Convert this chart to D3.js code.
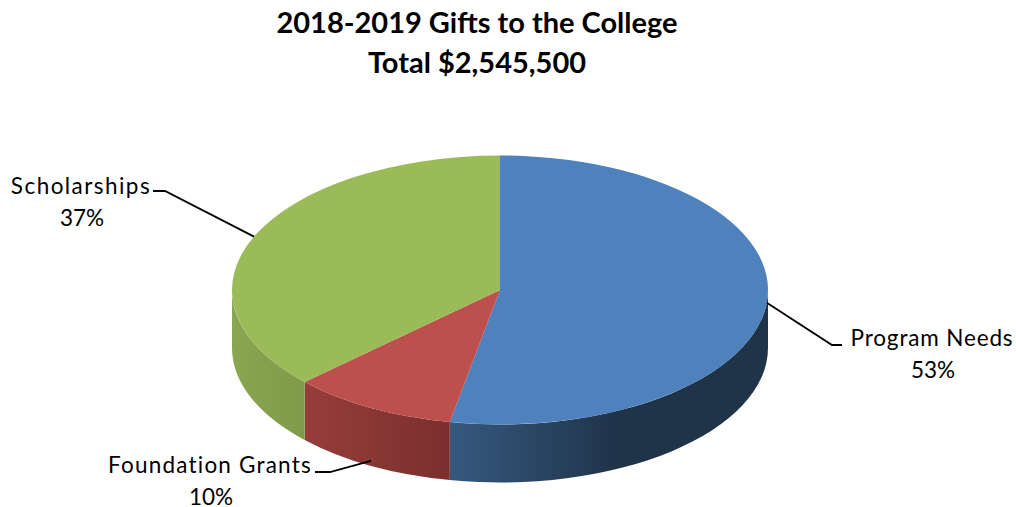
<html>
  <head>
    <script src="https://d3js.org/d3.v7.min.js"></script>
    <style>
      body {
        margin: 0;
        background: #fff;
      }
      text {
        font-family: Lato, "Open Sans", sans-serif;
        fill: #000;
      }
      .title {
        font-size: 29px;
        font-weight: 700;
      }
      .label {
        font-size: 22.5px;
      }
      .leader {
        fill: none;
        stroke: #000;
        stroke-width: 1.8;
      }
    </style>
  </head>

  <body>
    <svg id="chart" width="1016" height="507"></svg>

    <script>
      const titleLines = ["2018-2019 Gifts to the College", "Total $2,545,500"];
      const categories = ["Program Needs", "Foundation Grants", "Scholarships"];
      const percents = [53, 10, 37];
      const topColors = ["#4f81bd", "#bd4f4c", "#9bbb59"];
      const sideColorsFrom = ["#35597f", "#963d3a", "#7f9a4a"];
      const sideColorsTo = ["#1f3349", "#7a2f2e", "#8aa650"];

      const cx = 500,
        cy = 290,
        rx = 268,
        ry = 134.5,
        depth = 58;

      const svg = d3.select("svg#chart");

      svg
        .selectAll("text.title")
        .data(titleLines)
        .join("text")
        .attr("class", "title")
        .attr("x", 477)
        .attr("y", (d, i) => 33 + i * 40)
        .attr("text-anchor", "middle")
        .text((d) => d);

      const pie = d3
        .pie()
        .sort(null)
        .value((d) => d);
      const arcs = pie(percents);

      // point on the rim of the tilted disc, angle is clockwise from 12 o'clock
      const rim = (a) => [cx + rx * Math.sin(a), cy - ry * Math.cos(a)];

      const defs = svg.append("defs");
      const frontStart = Math.PI / 2,
        frontEnd = (3 * Math.PI) / 2;

      // side wall gradients
      arcs.forEach((d, i) => {
        const a0 = Math.max(d.startAngle, frontStart);
        const a1 = Math.min(d.endAngle, frontEnd);
        const xs = [rim(a0)[0], rim(a1)[0]];
        const g = defs
          .append("linearGradient")
          .attr("id", "side" + i)
          .attr("gradientUnits", "userSpaceOnUse")
          .attr("x1", i === 0 ? xs[1] : Math.min(...xs))
          .attr("x2", i === 0 ? xs[1] + 170 : Math.max(...xs))
          .attr("y1", 0)
          .attr("y2", 0);
        g.append("stop")
          .attr("offset", 0)
          .attr("stop-color", i === 2 ? sideColorsTo[i] : sideColorsFrom[i]);
        g.append("stop")
          .attr("offset", 1)
          .attr("stop-color", i === 2 ? sideColorsFrom[i] : sideColorsTo[i]);
      });

      function sidePath(d) {
        const a0 = Math.max(d.startAngle, frontStart);
        const a1 = Math.min(d.endAngle, frontEnd);
        const p0 = rim(a0),
          p1 = rim(a1);
        return (
          `M${p0[0]},${p0[1]}` +
          `A${rx},${ry} 0 0 1 ${p1[0]},${p1[1]}` +
          `L${p1[0]},${p1[1] + depth}` +
          `A${rx},${ry} 0 0 0 ${p0[0]},${p0[1] + depth}Z`
        );
      }

      svg
        .selectAll("path.side")
        .data(arcs)
        .join("path")
        .attr("class", "side")
        .attr("d", sidePath)
        .attr("fill", (d, i) => `url(#side${i})`);

      const arc = d3.arc().innerRadius(0).outerRadius(rx);

      svg
        .append("g")
        .attr("transform", `translate(${cx},${cy}) scale(1,${ry / rx})`)
        .selectAll("path")
        .data(arcs)
        .join("path")
        .attr("d", arc)
        .attr("fill", (d, i) => topColors[i]);

      // label placement: text anchor point and the leader's elbow, per slice
      const labelBoxes = [
        { x: 932, y: 346, spacing: 0.85, bend: [832, 345], stub: [842, 345], drop: 0 },
        { x: 210, y: 473, spacing: 1.2, bend: [330, 472], stub: [315, 472], drop: depth - 5 },
        { x: 81, y: 194, spacing: 1.45, bend: [165, 191], stub: [153, 191], drop: 0 },
      ];

      const leader = d3.line();

      svg
        .selectAll("path.leader")
        .data(arcs)
        .join("path")
        .attr("class", "leader")
        .attr("d", (d, i) => {
          const b = labelBoxes[i];
          const p = rim((d.startAngle + d.endAngle) / 2);
          return leader([[p[0], p[1] + b.drop], b.bend, b.stub]);
        });

      const labels = svg
        .selectAll("text.label")
        .data(categories)
        .join("text")
        .attr("class", "label")
        .attr("text-anchor", "middle")
        .attr("x", (d, i) => labelBoxes[i].x)
        .attr("y", (d, i) => labelBoxes[i].y);

      labels
        .append("tspan")
        .attr("letter-spacing", (d, i) => labelBoxes[i].spacing)
        .text((d) => d);

      labels
        .append("tspan")
        .attr("x", (d, i) => labelBoxes[i].x + 1)
        .attr("dy", 32)
        .text((d, i) => percents[i] + "%");
    </script>
  </body>
</html>
